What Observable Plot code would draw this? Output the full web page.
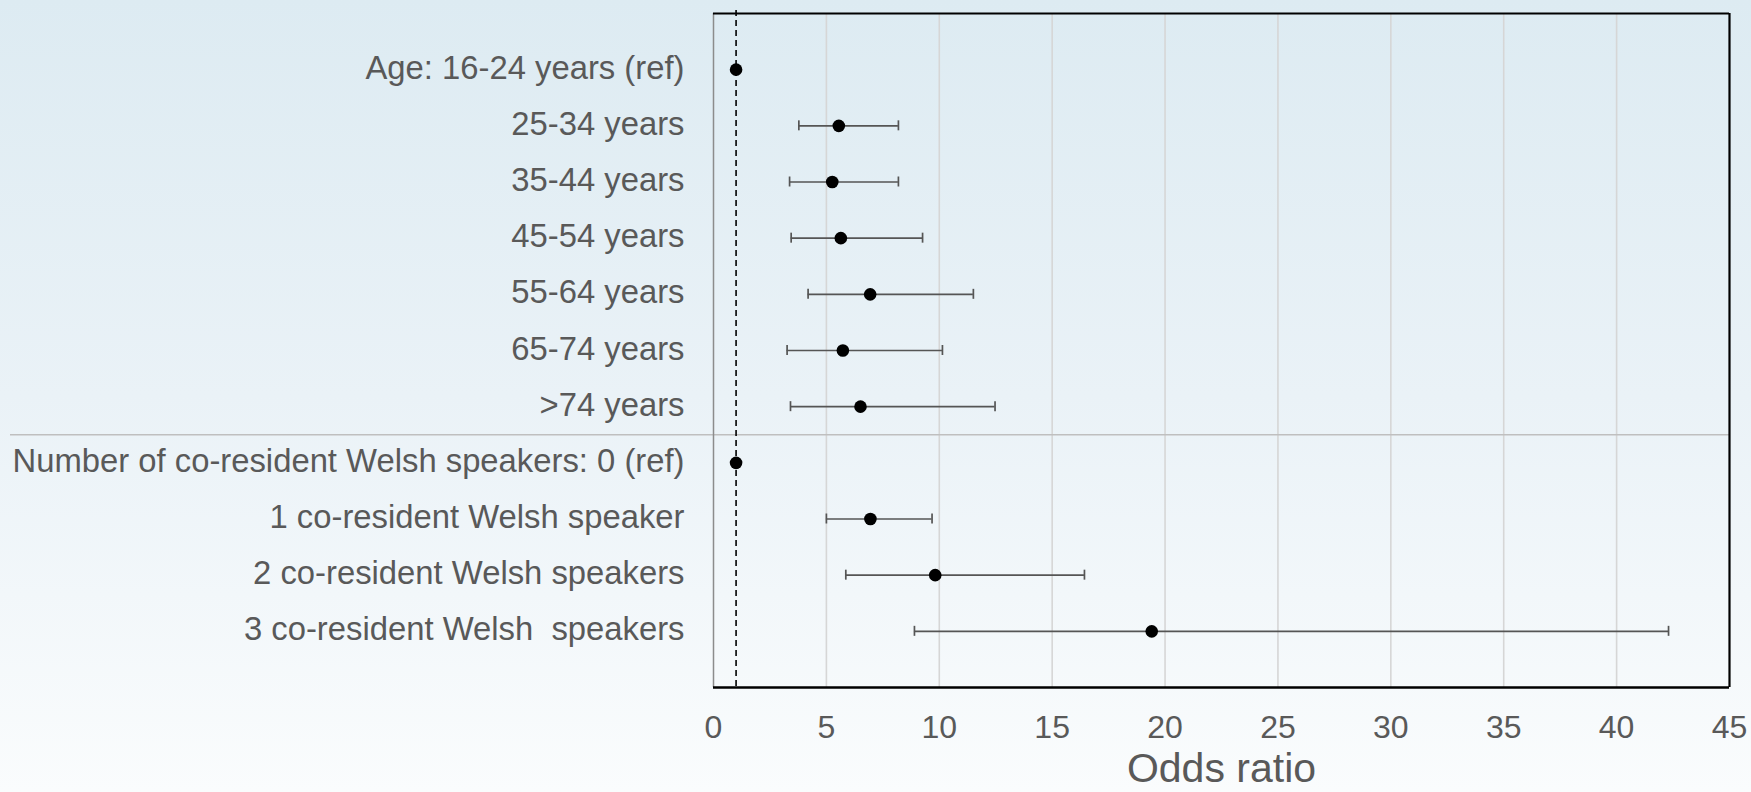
<!DOCTYPE html>
<html>
<head>
<meta charset="utf-8">
<script src="https://cdn.jsdelivr.net/npm/d3@7"></script>
<script src="https://cdn.jsdelivr.net/npm/@observablehq/plot@0.6"></script>
<style>
  html, body { margin: 0; padding: 0; background: #f9fbfd; }
  #chart svg { display: block; }
</style>
</head>
<body>
<div id="chart"></div>
<script>
// Row labels (top to bottom)
const categories = [
  "Age: 16-24 years (ref)",
  "25-34 years",
  "35-44 years",
  "45-54 years",
  "55-64 years",
  "65-74 years",
  ">74 years",
  "Number of co-resident Welsh speakers: 0 (ref)",
  "1 co-resident Welsh speaker",
  "2 co-resident Welsh speakers",
  "3 co-resident Welsh  speakers"
];
// Odds ratios and 95% confidence limits
const oddsRatio = [1, 5.55, 5.26, 5.64, 6.94, 5.73, 6.51, 1, 6.95, 9.82, 19.41];
const lowerCI   = [null, 3.78, 3.37, 3.44, 4.19, 3.26, 3.41, null, 5.0, 5.86, 8.90];
const upperCI   = [null, 8.19, 8.19, 9.26, 11.51, 10.14, 12.47, null, 9.68, 16.43, 42.3];
// Axis ticks
const xTicks = [0, 5, 10, 15, 20, 25, 30, 35, 40, 45];
const gridTicks = [5, 10, 15, 20, 25, 30, 35, 40];
const refLine = [1];
const groupBreak = [7.5];

const rows = categories.map((c, k) => ({
  row: k + 1, label: c, or: oddsRatio[k], lo: lowerCI[k], hi: upperCI[k]
}));
const ciRows = rows.filter(d => d.lo != null && d.hi != null);

const plot = Plot.plot({
  width: 1751,
  height: 792,
  marginLeft: 713,
  marginRight: 22,
  marginTop: 13,
  marginBottom: 105,
  style: {
    background: "linear-gradient(to bottom, #ddebf2 0%, #eaf2f7 50%, #fafcfd 100%)",
    fontFamily: "'Liberation Sans', Arial, sans-serif",
    color: "#595959",
    whiteSpace: "pre",
    overflow: "visible"
  },
  x: {domain: [0, 45]},
  y: {domain: [0, 12], reverse: true},
  marks: [
    // vertical gridlines
    Plot.ruleX(gridTicks, {stroke: "#d6d6d6", strokeWidth: 1.6}),
    // group separator
    Plot.ruleY(groupBreak, {stroke: "#bfbfbf", strokeWidth: 1.5, insetLeft: -703}),
    // frame: left (grey), top, bottom, right (black)
    Plot.ruleX([0], {stroke: "#8c8c8c", strokeWidth: 1.5}),
    Plot.ruleY([0], {stroke: "#000", strokeWidth: 2.2}),
    Plot.ruleY([12], {stroke: "#000", strokeWidth: 2.5}),
    Plot.ruleX([45], {stroke: "#000", strokeWidth: 2.2}),
    // reference line at OR = 1
    Plot.ruleX(refLine, {stroke: "#000", strokeWidth: 1.6, strokeDasharray: "6,4", insetTop: -3, insetBottom: -3}),
    // confidence intervals
    Plot.ruleY(ciRows, {y: "row", x1: "lo", x2: "hi", stroke: "#555", strokeWidth: 1.7}),
    Plot.ruleX(ciRows, {x: "lo", y1: "row", y2: "row", insetTop: -5, insetBottom: -5, stroke: "#555", strokeWidth: 1.7}),
    Plot.ruleX(ciRows, {x: "hi", y1: "row", y2: "row", insetTop: -5, insetBottom: -5, stroke: "#555", strokeWidth: 1.7}),
    // point estimates
    Plot.dot(rows, {x: "or", y: "row", r: 6.3, fill: "#000", stroke: "none"}),
    // axes
    Plot.axisX({ticks: xTicks, tickSize: 0, tickPadding: 28, fontSize: 32, fill: "#595959", label: null}),
    Plot.axisY({ticks: d3.range(1, 12), tickFormat: i => categories[i - 1], tickSize: 0, tickPadding: 29, fontSize: 32.8, fill: "#595959", label: null, dy: -1.5}),
    Plot.text(["Odds ratio"], {frameAnchor: "bottom", dy: 81, fontSize: 41, fill: "#595959", lineAnchor: "middle"})
  ]
});
document.getElementById("chart").appendChild(plot);
</script>
</body>
</html>
